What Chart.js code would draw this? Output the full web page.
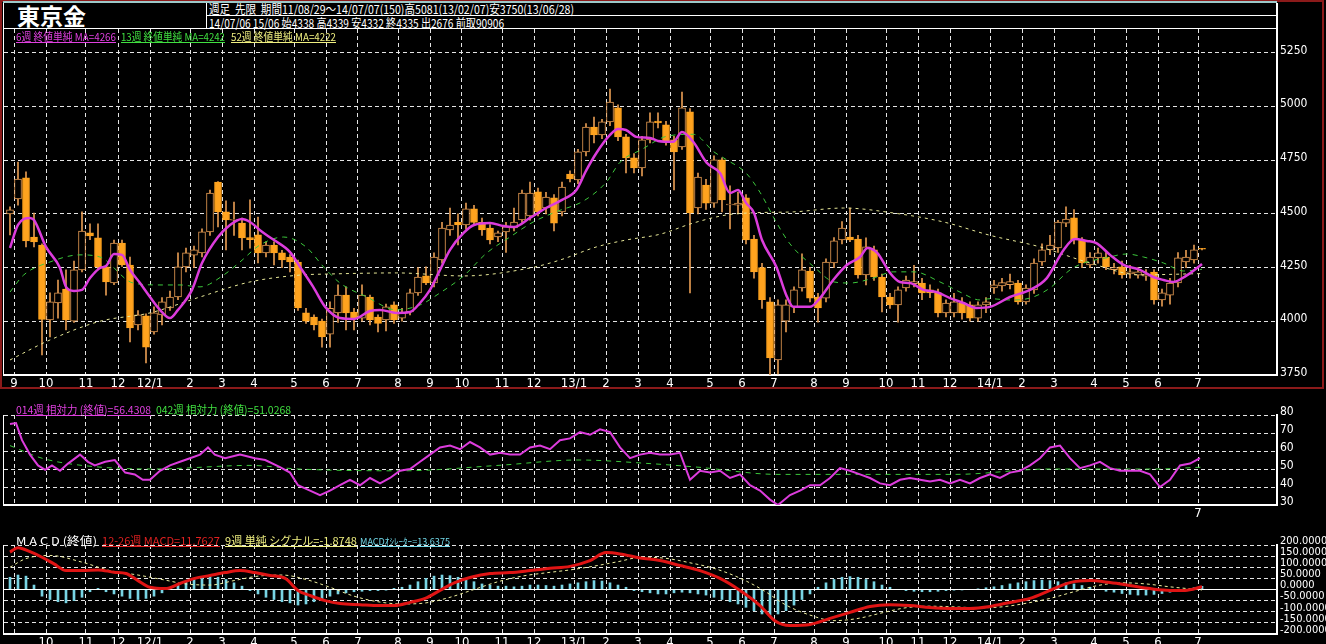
<!DOCTYPE html>
<html>
<head>
<meta charset="utf-8">
<script src="https://cdn.jsdelivr.net/npm/chart.js@4.4.1/dist/chart.umd.min.js"></script>
<style>
  html, body { margin: 0; padding: 0; background: #000; }
  body { width: 1326px; height: 644px; position: relative; overflow: hidden;
         font-family: "Liberation Sans Narrow", "Noto Sans CJK JP", sans-serif; color: #fff; }
  canvas { position: absolute; left: 0; top: 0; }
  .ln { position: absolute; background: #fff; }
  .t, .lg { position: absolute; white-space: nowrap; transform-origin: 0 0; }
  .t { font-size: 12px; line-height: 12px; }
  .lg { font-size: 11px; line-height: 11px; }
  .u { text-decoration: underline; }
</style>
</head>
<body>
<div class="ln" style="left:0;top:0;width:1324px;height:389px;background:none;border:2px solid #8b1a1a;box-sizing:border-box"></div>
<div class="ln" style="left:3px;top:1px;width:1274px;height:2px;background:#9cc8c8"></div>
<div class="ln" style="left:3px;top:3px;width:1px;height:373px"></div>
<div class="ln" style="left:3px;top:415px;width:1px;height:90px"></div>
<div class="ln" style="left:3px;top:545px;width:1px;height:89px"></div>
<div class="ln" style="left:1276px;top:3px;width:2px;height:26px"></div>
<div class="ln" style="left:206px;top:3px;width:1px;height:25px"></div>
<div class="ln" style="left:206px;top:15px;width:1071px;height:1px"></div>
<div class="ln" style="left:3px;top:28px;width:1274px;height:1px"></div>

<div class="t fit" data-w="69" style="left:17px;top:3px;font-size:23px;line-height:24px;font-weight:bold;font-family:'Noto Sans CJK JP',sans-serif">東京金</div>
<div class="t fit" data-w="365" style="left:209px;top:3px">週足&nbsp; 先限&nbsp; 期間11/08/29～14/07/07(150)高5081(13/02/07)安3750(13/06/28)</div>
<div class="t fit" data-w="295" style="left:209px;top:17px">14/07/06 15/06 始4338 高4339 安4332 終4335 出2676 前取90906</div>

<canvas id="cPrice" width="1326" height="644"></canvas>
<canvas id="cRsi" width="1326" height="644"></canvas>
<canvas id="cMacd" width="1326" height="644"></canvas>

<div class="lg u fit" data-w="100" style="left:16px;top:31px;color:#e040e0">6週 終値単純 MA=4266</div>
<div class="lg u fit" data-w="104" style="left:121px;top:31px;color:#40e040">13週 終値単純 MA=4242</div>
<div class="lg u fit" data-w="105" style="left:231px;top:31px;color:#f0f080">52週 終値単純 MA=4222</div>

<div class="lg u fit" data-w="135" style="left:16px;top:404px;color:#e040e0">014週 相対力 (終値)=56.4308</div>
<div class="lg fit" data-w="135" style="left:156px;top:404px;color:#40e040">042週 相対力 (終値)=51.0268</div>

<div class="lg fit" data-w="81" style="left:16px;top:535px;color:#fff">M A C D (終値)</div>
<div class="lg u fit" data-w="118" style="left:102px;top:535px;color:#e02020">12-26週 MACD=11.7627</div>
<div class="lg u fit" data-w="132" style="left:225px;top:535px;color:#f0f080">9週 単純 シグナル=-1.8748</div>
<div class="lg u fit" data-w="90" style="left:360px;top:536px;color:#70d8e8;font-size:9px">MACDｵｼﾚｰﾀｰ=13.6375</div>

<script>
// 週足 2011/08/29 .. 2014/07/07 (150本)
const opens = [4499,4569,4667,4392,4355,4006,4085,4150,4000,4239, 4411,4388,4253,4178,4364,4262,3983,4025,3950,4030,
  4062,4113,4253,4308,4318,4416,4648,4509,4470,4457, 4390,4402,4318,4355,4318,4299,4276,4039,4020,4001,
  3940,4039,4122,4043,4015,4113,4020,4006,4076,4015, 4043,4132,4211,4178,4285,4425,4460,4448,4523,4460,
  4434,4392,4416,4434,4472,4490,4602,4527,4574,4509, 4685,4658,4788,4904,4867,4928,4993,4858,4760,4713,
  4844,4932,4914,4844,4811,4975,4527,4634,4550,4751, 4541,4540,4574,4383,4250,4090,3820,4000,4067,4155,
  4234,4113,4108,4271,4378,4392,4383,4216,4332,4206, 4113,4076,4155,4175,4178,4146,4132,4039,4039,4085,
  4076,4015,4076,4155,4165,4170,4178,4090,4146,4276, 4332,4341,4457,4481,4378,4262,4295,4299,4240,4253,
  4220,4215,4210,4229,4099,4122,4178,4276,4285,4338];
const highs = [4532,4741,4695,4504,4360,4132,4192,4239,4280,4509, 4453,4453,4260,4378,4378,4299,4050,4035,4067,4110,
  4140,4318,4340,4350,4430,4611,4650,4560,4555,4480, 4565,4485,4370,4370,4330,4310,4285,4060,4030,4010,
  4090,4169,4160,4060,4169,4122,4030,4080,4090,4060, 4150,4250,4253,4318,4460,4527,4500,4550,4539,4480,
  4450,4420,4460,4527,4610,4648,4620,4600,4590,4648, 4700,4800,4920,4950,4940,5081,5007,4870,4780,4860,
  4970,4970,4930,4860,5067,4990,4690,4660,4770,4760, 4630,4600,4590,4400,4270,4110,4100,4100,4160,4314,
  4250,4130,4290,4390,4464,4527,4400,4388,4350,4220, 4130,4160,4210,4260,4200,4170,4150,4100,4130,4110,
  4090,4090,4110,4190,4200,4220,4190,4170,4290,4360, 4400,4470,4532,4520,4390,4320,4340,4320,4270,4280,
  4260,4250,4240,4240,4150,4200,4320,4330,4355,4339];
const lows = [4402,4540,4346,4346,3843,3927,4015,3960,3995,4230, 4380,4239,4122,4170,4255,3904,3960,3806,3940,3983,
  4050,4100,4230,4250,4300,4400,4439,4332,4400,4332, 4340,4271,4300,4262,4250,4230,4050,3990,3960,3880,
  3880,3995,3960,3960,4000,3983,3950,3955,3990,4000, 4030,4120,4170,4160,4270,4400,4355,4430,4450,4400,
  4360,4370,4320,4420,4460,4470,4490,4500,4420,4490, 4648,4640,4770,4830,4850,4910,4840,4690,4690,4676,
  4830,4900,4820,4611,4800,4132,4500,4520,4530,4509, 4430,4500,4360,4200,4060,3750,3755,3950,4040,4140,
  4090,3996,4090,4250,4360,4370,4200,4169,4190,4043, 4060,3996,4140,4160,4100,4110,4020,4020,4020,4010,
  4000,4000,4040,4130,4140,4150,4080,4080,4130,4260, 4310,4320,4440,4360,4250,4250,4270,4240,4220,4200,
  4200,4200,4190,4080,4070,4080,4160,4250,4270,4332];
const closes = [4518,4662,4374,4369,4009,4090,4132,4006,4239,4420, 4397,4253,4183,4364,4262,3969,4030,3880,4039,4090,
  4113,4253,4318,4332,4416,4597,4509,4472,4472,4388, 4380,4318,4355,4318,4285,4276,4062,4001,3983,3927,
  4060,4122,4039,4015,4122,4006,3990,4067,4006,4040, 4132,4206,4178,4299,4434,4448,4448,4523,4460,4425,
  4378,4411,4439,4462,4597,4597,4509,4578,4457,4625, 4662,4788,4904,4867,4928,5020,4858,4760,4713,4844,
  4928,4923,4835,4788,4993,4504,4671,4550,4751,4565, 4545,4550,4378,4230,4100,3829,4076,4076,4146,4239,
  4108,4062,4276,4374,4434,4378,4216,4346,4206,4113, 4076,4146,4192,4185,4132,4132,4039,4085,4090,4039,
  4015,4076,4090,4170,4180,4185,4090,4155,4271,4332, 4355,4462,4476,4378,4271,4299,4318,4253,4250,4216,
  4230,4230,4220,4099,4132,4178,4295,4299,4332,4335];

// 移動平均 (週番号, 値)
const ma6Week = [0,1,2.5,3,4.5,6.25,7,8,9,10,11.25,12,13,14,15,16.25,17.5,18.75,20,21,22.75,24,26,27.5,29,30,31.5,33,35,36.25,37.9,39.4,
  41.25,43,45,46.25,48.3,50,51.25,52.5,53.75,55,56.7,58,60,61.7,63,65,67,69,70.8,72,73.3,75,76,77,78.3,80,81,82.9,84,85.4,87.1,88.75,
  90,91,92,93,94,95.8,97,97.9,100,101.25,102.9,104.6,106.25,107.2,108.4,110,111.25,112.5,114.2,115.8,117.5,119.2,120.8,122.5,125,
  127.5,129.6,131.7,133.1,134.6,135.8,137.5,139.2,141.25,142.9,144.2,145.4,147,149];
const ma6 = [4341,4448,4481,4471,4346,4248,4160,4141,4146,4201,4248,4257,4313,4309,4239,4178,4113,4053,4015,4053,4146,4271,4392,4448,4476,4462,4416,4378,4322,4253,4160,4067,
  4015,4011,4048,4053,4039,4043,4085,4146,4239,4332,4411,4448,4457,4443,4439,4481,4527,4565,4611,4700,4783,4867,4895,4890,4858,4853,4839,4835,4881,4835,4737,4690,
  4597,4611,4551,4504,4378,4253,4125,4067,4067,4108,4192,4262,4299,4341,4318,4225,4183,4178,4146,4136,4108,4085,4062,4067,4113,
  4146,4201,4332,4383,4374,4364,4309,4262,4239,4206,4192,4183,4211,4266];
const ma13Week = [0,1.7,5,8.75,11.25,15.4,18.75,21.25,23.75,26.7,28.75,31.25,34.2,37,39.2,41.25,44.6,48.3,51.25,53.75,56.7,59.6,62.5,65.4,68.3,
  71.7,74.6,76.25,79,82,85.4,88,89.6,92,93.75,95.8,97.5,100.6,103,105,107.9,110.4,113,116.25,118.75,121.25,122.5,125,127.5,130,132.5,134.2,
  137,139.6,141.7,144.2,146.7,149];
const ma13 = [4136,4215,4276,4309,4299,4178,4169,4169,4160,4215,4276,4355,4392,4346,4253,4178,4113,4053,4076,4132,4211,4318,4392,4462,4510,
  4560,4650,4740,4800,4860,4870,4788,4751,4690,4600,4460,4360,4250,4183,4178,4201,4230,4230,4183,4136,4099,4105,4099,4108,4155,4239,4271,
  4295,4313,4299,4271,4234,4242];
const ma52Week = [0,5,11.25,17.5,23.75,30,36.25,40,48.3,56.7,65,68.75,73.3,77,81.25,85.4,89.6,93,97.9,104.2,110.4,116.7,122.5,128.75,135,141.25,149];
const ma52 = [3820,3913,4000,4039,4113,4183,4215,4220,4225,4211,4248,4285,4346,4378,4405,4457,4495,4505,4509,4527,4504,4462,4400,4346,4271,4216,4222];

// 相対力
const rsi14Week = [0,0.75,1.5,2.5,3.5,4.4,5.25,6.25,7.25,8.75,9.75,10.6,11.9,13.1,14.4,15.6,16.6,17.5,18.75,20,21.25,22.5,23.75,24.75,25.6,26.9,
  28.75,30.6,31.9,33.75,35,36,37.5,38.75,40,41.25,42.5,43.75,45,46.25,47.5,48.75,50,51.25,52.5,53.75,55,56.25,57.5,58.75,60,61.25,62.5,63.75,
  65,66.25,67.5,68.75,70,71.25,72.5,73.75,75,76.25,77.5,78.75,80,81.25,82.5,83.75,85,86.25,87.5,88.75,90,91.25,92.5,93.75,95,96,97.5,98.75,
  100,101.25,102.5,103.75,105,106.25,107.5,108.75,110,111.25,112.5,113.75,115,116.25,117.5,118.75,120,121.25,122.5,123.75,125,126.25,127.5,
  128.75,130,131.25,132.5,133.75,135,136.25,137.5,138.75,140,141.25,142.5,143.75,145,146.25,147.5,148.75];
const rsi14 = [75,75.5,66,58,52,49.5,52,49,53,58,54,52,54,55,48,47,44,44,49,52,54,56,58,62,58,56,
  58,56,55,51,48,41,38,35.5,38,41,44,41,45,42,45,49,50,54,58,62,63,61,65,62,58,59,58,58,
  62,63,61,66,67,70.5,69,72,70.5,62,56,58,59,58,58,59,44,49,48,49,45,47,41,38,33,30,35.5,38,
  41,41,45,50.5,49,47,45,42,41,44,45,44,43,44,42,44,42,45,47,45,48,49,52,
  56,62,63,56,50.5,52,54,50.5,49,49,49,47,40,44,52,53,56];
const rsi42Week = [0,4,9,18,30,36,49,61,71,80,86,96,105,118,130,143,149];
const rsi42 = [63,56,52,50,52,50,49,52,55,53,51,47,47,47,50,50,51];

// MACD
const macdWeek = [0,1,2.5,4,5.5,7,9,11,13,14.5,16,17.5,19.4,21.25,23.1,25,26.9,28.75,30.6,32.5,34.4,36,37.5,39.4,41.25,43.75,46.25,48.1,
  50,51.9,53.75,55.6,57.5,60,62.5,65,67.5,70,72.5,74.5,76.25,78.75,81.25,83.75,86.25,88.75,91.25,93.75,95.6,97.5,100,102.5,105,107.5,
  110,112.5,115,117.5,120,122.5,125,127.5,130,132.5,135,137.5,140,142.5,145,146.9,149];
const macd = [168,188,170,145,115,85,85,88,78,72,40,10,4,27,50,63,76,85,76,63,50,-4,-27,-50,-63,-68,-72,-72,
  -58,-40,-4,31,54,72,76,85,95,104,130,166,160,142,130,108,85,50,-4,-72,-140,-162,-157,-130,-103,-76,
  -68,-72,-81,-85,-85,-76,-58,-40,-4,31,40,31,18,4,-4,-4,12];
const signalWeek = [0,2,5,9,12.5,16,19,22,25,28,31,34,37,40,43,46,49,52,55,58,61,64,67,70,73,76,79,82,85,88,91,94,97,100,103,106,109,
  112,115,118,121,124,127,130,133,136,139,142,145,149];
const signal = [100,139,153,123,85,65,45,25,20,40,60,65,45,10,-30,-55,-65,-60,-35,0,35,60,75,88,105,125,145,140,120,95,55,0,-70,-115,-140,-130,-105,
  -82,-75,-78,-82,-78,-62,-40,-10,18,30,25,12,-2];
const osc = [55,65,60,20, -30,-45,-55,-60,-50,-35, -10,5, -10,-20,-30,-40,-45,-40,-30,-15,
  5,20,35,45,55,58,55,45,30,15, -5,-20,-35,-45,-55,-60,-70,-65,-55,-45,-30,
  -20,-15,-10,-8,-5,-5,-3,5,10, 20,35,50,60,65,62,55,45,35,25, 20,15,15,12,15,20,20,18,15,20,
  25,30,35,40,38,30,20,10, -5,-10,-15,-20,-20,-15,-12,-15,-20,-25,-35,
  -45,-55,-65,-80,-95,-110,-115,-110,-95,-70,-45,-20, 10,30,45,55,58,55,45,35,20,10,
  0,-5,-8,-10,-10,-8,-5,-3,-2,0,3,8,12, 18,25,30,35,40,42,40,35,30,25,18,
  10,0,-8,-12,-18,-22,-25,-25,-22,-18,-12,-8,-3, 8,14];

// 目盛
const monthLabels = ['9','10','11','12','12/1','2','3','4','5','6','7','8','9','10','11','12',
  '13/1','2','3','4','5','6','7','8','9','10','11','12','14/1','2','3','4','5','6','7'];
const monthWeek = [1,5,10,14,18,23,27,31,36,40,44,49,53,57,62,66,71,75,79,83,88,92,96,101,105,110,114,118,123,127,131,136,140,144,149];
const priceTicks = [3750,4000,4250,4500,4750,5000,5250];
const rsiTicks = [30,40,50,60,70,80];
const macdTicks = [-200,-150,-100,-50,0,50,100,150,200];

const FONT = '"Liberation Sans Narrow", "DejaVu Sans Condensed", "Noto Sans", sans-serif';
const DASH = [4, 3];
const GRID = '#e4e4e4';
const UP_LINE = '#e49a52';
const DOWN_FILL = '#ffa31e';

// 見出し文字の幅合わせ
document.querySelectorAll('.fit').forEach(el => {
  const w = el.getBoundingClientRect().width;
  if (w > 0) el.style.transform = 'scaleX(' + (Number(el.dataset.w) / w) + ')';
});

const weekIdx = opens.map((_, i) => i);
const pts = (xs, ys) => xs.map((x, i) => ({ x: x, y: ys[i] }));

function xAxis(height, showLabel) {
  return {
    type: 'linear', min: -0.75, max: 158.375, offset: false,
    afterBuildTicks: ax => { ax.ticks = monthWeek.map(w => ({ value: w - 0.5 })); },
    afterFit: ax => { ax.height = height; },
    grid: { color: GRID, drawTicks: false, offset: false },
    border: { display: true, color: '#fff', width: 2, dash: DASH },
    ticks: {
      color: '#fff', font: { family: FONT, size: 13 }, padding: 1, maxRotation: 0, autoSkip: false,
      callback: (v, i) => showLabel(i) ? monthLabels[i] : ''
    }
  };
}

function yAxis(min, max, ticks, fmt, size, offset) {
  return {
    position: 'right', min: min, max: max,
    afterBuildTicks: ax => { ax.ticks = ticks.map(v => ({ value: v })); },
    afterFit: ax => { ax.width = 49; },
    grid: { color: GRID, drawTicks: false },
    border: { display: true, color: '#fff', width: 2, dash: DASH },
    ticks: { color: '#fff', font: { family: FONT, size: size }, padding: 3, labelOffset: offset,
             autoSkip: false, callback: fmt }
  };
}

const common = {
  responsive: false, animation: false, devicePixelRatio: 1, events: [],
  plugins: { legend: { display: false }, tooltip: { enabled: false } }
};

// ローソク足 + 移動平均
new Chart(document.getElementById('cPrice'), {
  type: 'bar',
  data: {
    datasets: [
      {
        data: weekIdx.map(i => ({ x: i, y: [lows[i], highs[i]] })),
        backgroundColor: UP_LINE, barThickness: 1, grouped: false, order: 5
      },
      {
        data: weekIdx.map(i => ({ x: i, y: [opens[i], closes[i]] })),
        backgroundColor: weekIdx.map(i => closes[i] < opens[i] ? DOWN_FILL : '#000'),
        borderColor: weekIdx.map(i => closes[i] < opens[i] ? DOWN_FILL : UP_LINE),
        borderWidth: 1, borderSkipped: false, minBarLength: 1,
        barThickness: 7, grouped: false, order: 4
      },
      {
        type: 'line', data: pts(ma52Week, ma52), borderColor: '#e8e898', borderWidth: 1,
        borderDash: [3, 4], pointRadius: 0, cubicInterpolationMode: 'monotone', order: 3
      },
      {
        type: 'line', data: pts(ma13Week, ma13), borderColor: '#3cc83c', borderWidth: 1,
        borderDash: [5, 5], pointRadius: 0, cubicInterpolationMode: 'monotone', order: 2
      },
      {
        type: 'line', data: pts(ma6Week, ma6), borderColor: '#dc3cdc', borderWidth: 2.5,
        pointRadius: 0, cubicInterpolationMode: 'monotone', order: 1
      }
    ]
  },
  options: Object.assign({}, common, {
    layout: { padding: { left: 4, top: 29, right: 0, bottom: 253 } },
    scales: { x: xAxis(16, () => true), y: yAxis(3750, 5360, priceTicks, v => String(v), 12, -2) }
  })
});

// 相対力
new Chart(document.getElementById('cRsi'), {
  type: 'line',
  data: {
    datasets: [
      { data: pts(rsi42Week, rsi42), borderColor: '#3cc83c', borderWidth: 1, borderDash: [5, 5],
        pointRadius: 0, cubicInterpolationMode: 'monotone', order: 2 },
      { data: pts(rsi14Week, rsi14), borderColor: '#dc3cdc', borderWidth: 2,
        pointRadius: 0, tension: 0, order: 1 }
    ]
  },
  options: Object.assign({}, common, {
    layout: { padding: { left: 4, top: 415, right: 0, bottom: 125 } },
    scales: { x: xAxis(14, i => i === monthLabels.length - 1), y: yAxis(30, 80, rsiTicks, v => String(v), 12, -3) }
  })
});

// MACD
new Chart(document.getElementById('cMacd'), {
  type: 'bar',
  data: {
    datasets: [
      { data: weekIdx.map(i => ({ x: i, y: osc[i] })), backgroundColor: '#78d4e4',
        barThickness: 2, grouped: false, order: 4 },
      { type: 'line', data: [{ x: -0.75, y: 0 }, { x: 158.375, y: 0 }], borderColor: '#fff',
        borderWidth: 1, pointRadius: 0, order: 3 },
      { type: 'line', data: pts(signalWeek, signal), borderColor: '#f0f0a0', borderWidth: 1,
        borderDash: [3, 3], pointRadius: 0, cubicInterpolationMode: 'monotone', order: 2 },
      { type: 'line', data: pts(macdWeek, macd), borderColor: '#e01414', borderWidth: 3,
        pointRadius: 0, cubicInterpolationMode: 'monotone', order: 1 }
    ]
  },
  options: Object.assign({}, common, {
    layout: { padding: { left: 4, top: 545, right: 0, bottom: 0 } },
    scales: { x: xAxis(10, i => i > 0), y: yAxis(-200, 200, macdTicks, v => v.toFixed(4), 11, -4) }
  })
});
</script>
</body>
</html>
